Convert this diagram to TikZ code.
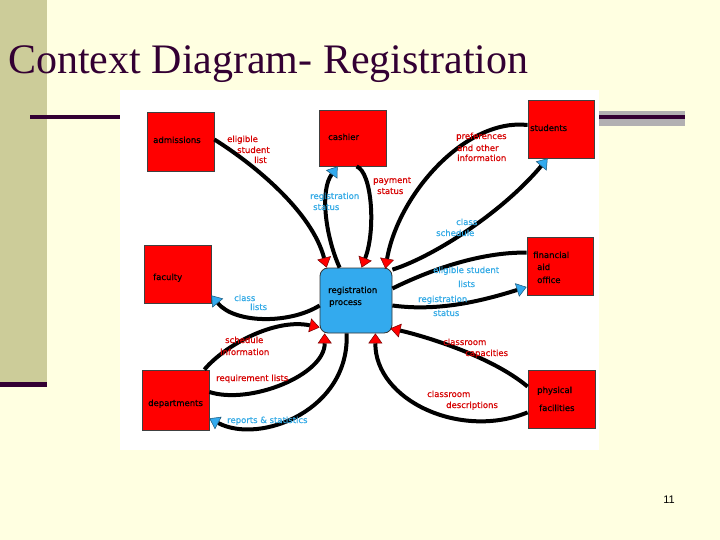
\documentclass[tikz,border=0pt]{standalone}
\usepackage{fontspec}
\setmainfont{Liberation Serif}
\newfontfamily\labfont[FakeBold=0.6]{DejaVu Sans}
\newfontfamily\numfont{Liberation Sans}
\usetikzlibrary{arrows.meta,calc}
\definecolor{pagebg}{RGB}{255,255,225}
\definecolor{strip}{RGB}{204,204,153}
\definecolor{dpurple}{RGB}{51,0,51}
\definecolor{greybar}{RGB}{178,176,178}
\definecolor{boxred}{RGB}{255,0,0}
\definecolor{procblue}{RGB}{51,170,238}
\definecolor{labred}{RGB}{215,0,0}
\definecolor{labblue}{RGB}{51,170,230}
\tikzset{
  entity/.style={draw=black!75,line width=0.8pt,fill=boxred,inner sep=0pt},
  procbox/.style={draw=black!80,line width=0.8pt,fill=procblue,rounded corners=8pt,inner sep=0pt,minimum width=72pt,minimum height=65pt},
  etext/.style={anchor=base west,inner sep=0pt,font=\labfont\fontsize{8.5}{9}\selectfont,text=black},
  rlab/.style={anchor=base west,inner sep=0pt,font=\labfont\fontsize{8.5}{9}\selectfont,text=labred},
  blab/.style={anchor=base west,inner sep=0pt,font=\labfont\fontsize{8.5}{9}\selectfont,text=labblue},
  flow/.style={draw=black,line width=4pt},
  redin/.style={flow,-{Triangle[width=14pt,length=10pt,fill=boxred,color=red!45!black,line width=0.5pt]}},
  blueout/.style={flow,-{Triangle[width=14pt,length=10pt,fill=procblue,color=procblue!50!black,line width=0.5pt]}},
}
\begin{document}
\begin{tikzpicture}[x=1pt,y=-1pt]
\useasboundingbox (0,0) rectangle (720,540);
\fill[pagebg] (0,0) rectangle (720,540);
\fill[strip] (0,0) rectangle (47,383);
\fill[dpurple] (0,382) rectangle (47,387);
\node[anchor=base west,inner sep=0pt,text=dpurple,font=\fontsize{42}{42}\selectfont] (title) at (8,74) {Context Diagram- Registration};
\fill[dpurple] (30,115) rectangle (121,119);
\fill[greybar] (598,111) rectangle (685,126);
\fill[dpurple] (598,115.5) rectangle (685,119.5);
\fill[white] (120,90) rectangle (599,450);
\node[font=\numfont\fontsize{11}{12}\selectfont,text=black] (pnum) at (669,500) {11};
% entities
\node[entity,minimum width=67pt,minimum height=59pt] (adm) at (180.5,141.5) {};
\node[entity,minimum width=67pt,minimum height=56pt] (cash) at (352.5,138) {};
\node[entity,minimum width=66pt,minimum height=58pt] (stud) at (561,129) {};
\node[entity,minimum width=67pt,minimum height=58pt] (fac) at (177.5,274) {};
\node[entity,minimum width=66pt,minimum height=58pt] (fin) at (560,266) {};
\node[entity,minimum width=67pt,minimum height=60pt] (dep) at (175.5,400) {};
\node[entity,minimum width=67pt,minimum height=58pt] (phys) at (561.5,399) {};
\node[procbox] (proc) at (356,300.5) {};
% entity texts
\node[etext] (tadm) at (153,143) {admissions};
\node[etext] (tcash) at (328,140) {cashier};
\node[etext] (tstud) at (530,131) {students};
\node[etext] (tfac) at (153,280) {faculty};
\node[etext] (tfin1) at (533,258) {financial};
\node[etext] (tfin2) at (537,270) {aid};
\node[etext] (tfin3) at (537,283) {office};
\node[etext] (tdep) at (148,406) {departments};
\node[etext] (tphys1) at (537,393) {physical};
\node[etext] (tphys2) at (539,411) {facilities};
\node[etext] (tproc1) at (328,293) {registration};
\node[etext] (tproc2) at (329,305) {process};
% flows
\draw[redin] ($(adm.east)+(0,-2)$) .. controls (255,165) and (312,212) .. ($(proc.north west)+(7,0)$);
\draw[blueout] ($(proc.north west)+(20,0)$) .. controls (325,235) and (320,190) .. ($(cash.south west)+(19,0)$);
\draw[redin] ($(cash.south west)+(38,0)$) .. controls (372,172) and (376,230) .. ($(proc.north west)+(42,0)$);
\draw[redin] ($(stud.west)+(0,-4)$) .. controls (465,118) and (398,195) .. ($(proc.north east)+(-7,1)$);
\draw[blueout] ($(proc.north east)+(0,2)$) .. controls (430,258) and (500,215) .. ($(stud.south west)+(20,0)$);
\draw[flow] ($(proc.east)+(0,-12)$) .. controls (430,270) and (480,252) .. ($(fin.north west)+(0,16)$);
\draw[blueout] ($(proc.east)+(0,5)$) .. controls (440,312) and (485,300) .. ($(fin.west)+(0,21)$);
\draw[blueout] ($(proc.west)+(0,5)$) .. controls (290,324) and (235,324) .. ($(fac.south east)+(0,-8)$);
\draw[redin] ($(dep.north east)+(-5,0)$) .. controls (225,345) and (275,318) .. ($(proc.south west)+(0,-6)$);
\draw[redin] ($(dep.east)+(0,-8)$) .. controls (250,405) and (325,375) .. ($(proc.south west)+(5,0)$);
\draw[blueout] ($(proc.south west)+(27,0)$) .. controls (350,410) and (260,445) .. ($(dep.south east)+(0,-12)$);
\draw[redin] ($(phys.north west)+(0,17)$) .. controls (490,355) and (420,335) .. ($(proc.south east)+(-2,-5)$);
\draw[redin] ($(phys.south west)+(0,-16)$) .. controls (460,440) and (375,400) .. ($(proc.south east)+(-17,0)$);
% labels
\node[rlab] (l1a) at (227,142) {eligible};
\node[rlab] (l1b) at (237,153) {student};
\node[rlab] (l1c) at (254,163) {list};
\node[blab] (l2a) at (310,199) {registration};
\node[blab] (l2b) at (313,210) {status};
\node[rlab] (l3a) at (373,183) {payment};
\node[rlab] (l3b) at (377,194) {status};
\node[rlab] (l4a) at (456,139) {preferences};
\node[rlab] (l4b) at (457,151) {and other};
\node[rlab] (l4c) at (457,161) {information};
\node[blab] (l5a) at (456,225) {class};
\node[blab] (l5b) at (436,236) {schedule};
\node[blab] (l6a) at (433,273) {eligible student};
\node[blab] (l6b) at (458,287) {lists};
\node[blab] (l7a) at (418,302) {registration};
\node[blab] (l7b) at (433,316) {status};
\node[blab] (l8a) at (234,301) {class};
\node[blab] (l8b) at (250,310) {lists};
\node[rlab] (l9a) at (225,343) {schedule};
\node[rlab] (l9b) at (220,355) {information};
\node[rlab] (l10) at (216,381) {requirement lists};
\node[blab] (l11) at (227,423) {reports \& statistics};
\node[rlab] (l12a) at (443,345) {classroom};
\node[rlab] (l12b) at (465,356) {capacities};
\node[rlab] (l13a) at (427,397) {classroom};
\node[rlab] (l13b) at (446,408) {descriptions};
\end{tikzpicture}
\end{document}
